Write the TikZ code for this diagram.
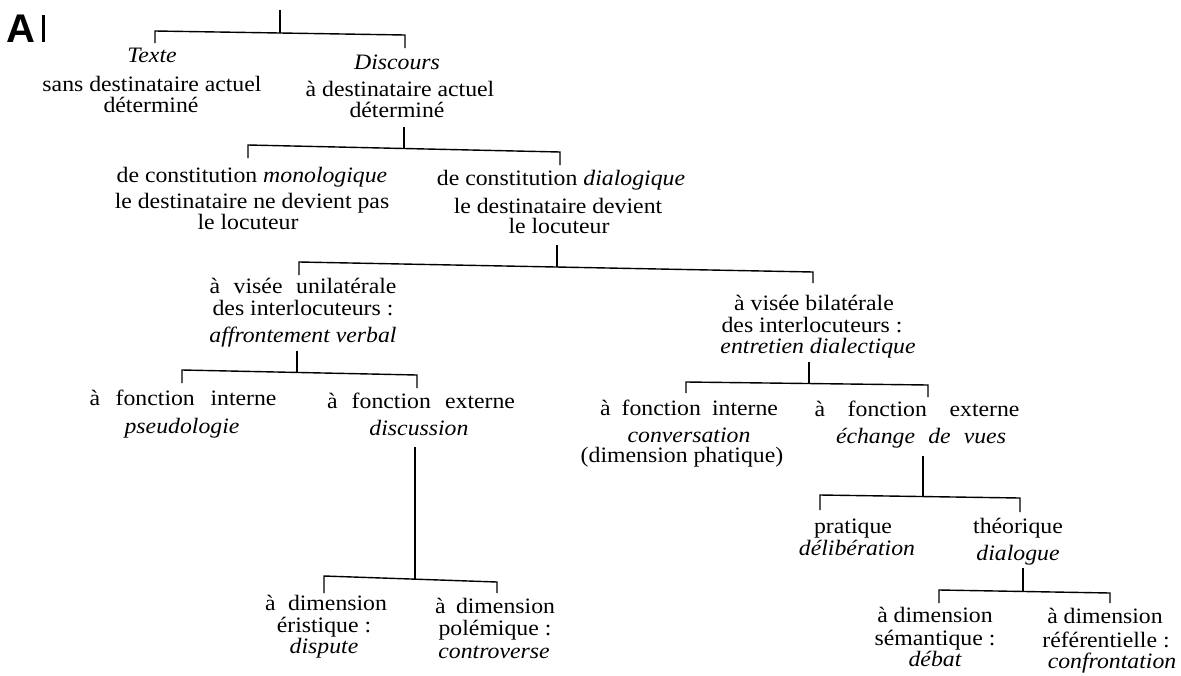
\documentclass[tikz,border=0pt]{standalone}
\usepackage{fontspec}
\setmainfont{Liberation Serif}[FakeStretch=1.08]
\newfontfamily\labelfont{Liberation Sans}
\newcommand\sbx[2]{\makebox[#1pt][s]{#2}}
\begin{document}
\begin{tikzpicture}[x=1pt,y=-1pt,
  txt/.style={font=\fontsize{22}{26}\selectfont, inner sep=0pt, anchor=base},
  it/.style={font=\fontsize{22}{26}\selectfont\itshape, inner sep=0pt, anchor=base},
  br/.style={line width=1.4pt, line join=miter, line cap=butt}]
\fill[white] (0,0) rectangle (1181,675);
\useasboundingbox (0,0) rectangle (1181,675);

% panel label
\node[anchor=base west, inner sep=0pt, font=\labelfont\bfseries\fontsize{40}{40}\selectfont] (lab) at (6,42) {A};
\fill (42,15) rectangle (44.5,42);

% level 1
\node[it]  (texte)  at (152,62)  {Texte};
\node[txt] (texte2) at (152,91)  {sans destinataire actuel};
\node[txt] (texte3) at (151,112) {déterminé};
\node[it]  (disc)   at (397,69)  {Discours};
\node[txt] (disc2)  at (400,96)  {à destinataire actuel};
\node[txt] (disc3)  at (397,117) {déterminé};

% level 2
\node[txt] (mono)  at (252,182) {de constitution \textit{monologique}};
\node[txt] (mono2) at (252,208) {le destinataire ne devient pas};
\node[txt] (mono3) at (248,229) {le locuteur};
\node[txt] (dia)   at (561,185) {de constitution \textit{dialogique}};
\node[txt] (dia2)  at (558,213) {le destinataire devient};
\node[txt] (dia3)  at (559,233) {le locuteur};

% level 3
\node[txt] (uni)  at (303,293) {\sbx{187}{à visée unilatérale}};
\node[txt] (uni2) at (303,315) {des interlocuteurs :};
\node[it]  (uni3) at (303,342) {affrontement verbal};
\node[txt] (bil)  at (814,310) {à visée bilatérale};
\node[txt] (bil2) at (812,332) {des interlocuteurs :};
\node[it]  (bil3) at (818,353) {entretien dialectique};

% level 4 left
\node[txt] (fil)  at (183,405) {\sbx{187}{à fonction interne}};
\node[it]  (fil2) at (182,433) {pseudologie};
\node[txt] (fel)  at (421,408) {\sbx{188}{à fonction externe}};
\node[it]  (fel2) at (419,435) {discussion};

% level 4 right
\node[txt] (fir)  at (689,415) {\sbx{178}{à fonction interne}};
\node[it]  (fir2) at (689,442) {conversation};
\node[txt] (fir3) at (682,462) {(dimension phatique)};
\node[txt] (fer)  at (917,416) {\sbx{205}{à fonction externe}};
\node[it]  (fer2) at (921,443) {\sbx{170}{échange de vues}};

% level 5 left
\node[txt] (eri)  at (326,610) {\sbx{122}{à dimension}};
\node[txt] (eri2) at (324,632) {éristique :};
\node[it]  (eri3) at (324,653) {dispute};
\node[txt] (pol)  at (495,613) {\sbx{120}{à dimension}};
\node[txt] (pol2) at (495,635) {polémique :};
\node[it]  (pol3) at (494,658) {controverse};

% level 5 right
\node[txt] (pra)  at (853,533) {pratique};
\node[it]  (pra2) at (857,555) {délibération};
\node[txt] (the)  at (1018,533) {théorique};
\node[it]  (the2) at (1018,560) {dialogue};

% level 6
\node[txt] (sem)  at (935,622) {à dimension};
\node[txt] (sem2) at (935,645) {sémantique :};
\node[it]  (sem3) at (935,666) {débat};
\node[txt] (ref)  at (1105,623) {à dimension};
\node[txt] (ref2) at (1106,647) {référentielle :};
\node[it]  (ref3) at (1112,668) {confrontation};

% junctions and drop ends
\coordinate (root) at (280,10);
\coordinate (j1) at (280,33);
\coordinate (a1) at (155,43);   \coordinate (b1) at (405,48);
\coordinate (j2) at (404,148.5);
\coordinate (a2) at (248,158);  \coordinate (b2) at (560,165);
\coordinate (j3) at (557,267);
\coordinate (a3) at (299,275);  \coordinate (b3) at (813,283);
\coordinate (j4) at (297,372.4);
\coordinate (a4) at (182,383);  \coordinate (b4) at (417,388);
\coordinate (j5) at (415,579.2);
\coordinate (a5) at (324,593);  \coordinate (b5) at (497,593);
\coordinate (j6) at (809,383.5);
\coordinate (a6) at (686,393);  \coordinate (b6) at (928,397);
\coordinate (j7) at (923,496.5);
\coordinate (a7) at (820,510);  \coordinate (b7) at (1020,512);
\coordinate (j8) at (1023,591.5);
\coordinate (a8) at (939,603);  \coordinate (b8) at (1110,603);

% connectors
\draw[br] (root) -- (j1);
\draw[br] (a1) -- (155,31) -- (405,35) -- (b1);
\draw[br] (disc3.south -| j2) ++(0,10) -- (j2);
\draw[br] (a2) -- (248,145) -- (560,152) -- (b2);
\draw[br] (dia3.south -| j3) ++(0,12) -- (j3);
\draw[br] (a3) -- (299,262) -- (813,272) -- (b3);
\draw[br] (uni3.south -| j4) ++(0,4) -- (j4);
\draw[br] (a4) -- (182,370) -- (417,375) -- (b4);
\draw[br] (fel2.south -| j5) ++(0,12) -- (j5);
\draw[br] (a5) -- (324,576) -- (497,582) -- (b5);
\draw[br] (bil3.south -| j6) ++(0,4.5) -- (j6);
\draw[br] (a6) -- (686,382) -- (928,385) -- (b6);
\draw[br] (fer2.south -| j7) ++(0,8) -- (j7);
\draw[br] (a7) -- (820,495) -- (1020,498) -- (b7);
\draw[br] (the2.south -| j8) ++(0,3) -- (j8);
\draw[br] (a8) -- (939,590) -- (1110,593) -- (b8);
\end{tikzpicture}
\end{document}
